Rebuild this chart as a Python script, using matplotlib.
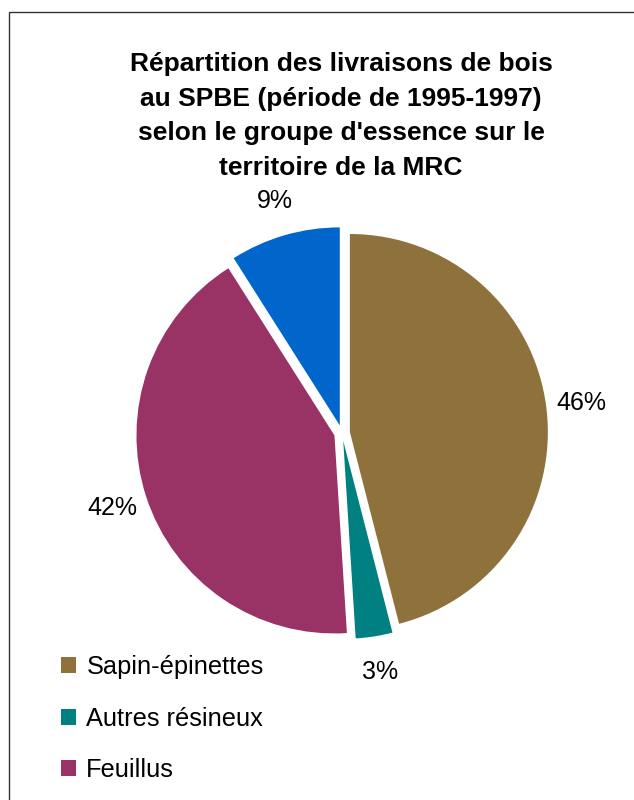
import matplotlib
matplotlib.use('Agg')
import matplotlib.pyplot as plt
from matplotlib.patches import Rectangle

# Data
categories = ['Sapin-épinettes', 'Autres résineux', 'Feuillus', 'Peupliers']
shares = [46, 3, 42, 9]
colors = ['#8F713B', '#008080', '#993366', '#0066CC']
title = ("Répartition des livraisons de bois\n"
         "au SPBE (période de 1995-1997)\n"
         "selon le groupe d'essence sur le\n"
         "territoire de la MRC")

plt.rcParams['font.family'] = ['Liberation Sans', 'DejaVu Sans']

W, H = 634, 800
fig = plt.figure(figsize=(W / 100, H / 100), dpi=100)

# Outer chart frame (right and bottom edges lie beyond the picture)
fig.patches.append(Rectangle((8.5 / W, -0.05), 1.0, 1 - 11.5 / H + 0.05,
                             transform=fig.transFigure, fill=False,
                             edgecolor='#333333', linewidth=1.0))

# Pie axes: centre ~ (342, 433) px, radius ~198 px
r_px = 198
lim = 1.3
side = 2 * lim * r_px
cx, cy = 342, H - 433
ax = fig.add_axes([(cx - side / 2) / W, (cy - side / 2) / H, side / W, side / H])
wedges, texts, autotexts = ax.pie(shares, colors=colors, startangle=90,
                                  counterclock=False,
                                  explode=[0.04] * len(shares),
                                  autopct='%1.0f%%', pctdistance=1.18,
                                  wedgeprops=dict(linewidth=0),
                                  textprops=dict(fontsize=18, color='black'))
ax.set_xlim(-lim, lim)
ax.set_ylim(-lim, lim)
ax.set_aspect('equal')
ax.axis('off')

fig.text(341 / W, 1 - 116 / H, title, ha='center', va='center',
         fontsize=19, fontweight='bold', linespacing=1.55)

# only the first three entries fit inside the picture
fig.legend(wedges[:3], categories[:3], loc='upper left',
           bbox_to_anchor=(51 / W, 1 - 645 / H), frameon=False,
           fontsize=18.3, handlelength=0.59, handleheight=0.59,
           handletextpad=0.4, labelspacing=1.08, borderaxespad=0)

fig.savefig('out.png', dpi=100, facecolor='white')
